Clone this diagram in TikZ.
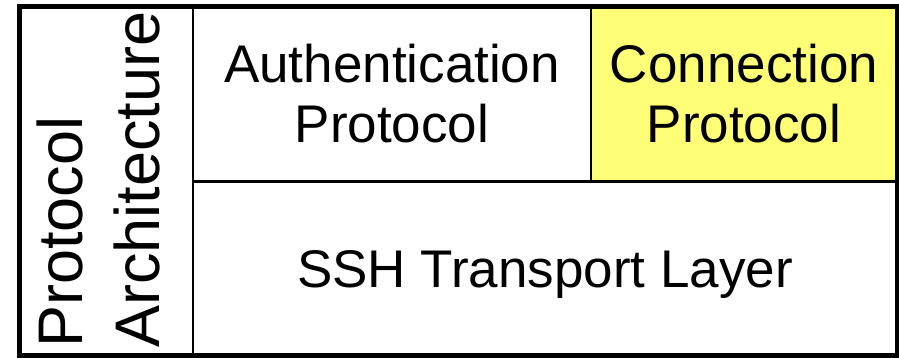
\documentclass[tikz,border=0pt]{standalone}
\usepackage{fontspec}
\setmainfont{Liberation Sans}
\definecolor{connyellow}{RGB}{255,255,119}

\begin{document}
\begin{tikzpicture}[x=1pt,y=-1pt,
	cell/.style={draw,line width=2.5pt,inner sep=0pt,align=center,font=\fontsize{53}{60}\selectfont}]
	\useasboundingbox (0,0) rectangle (899,357);
	\node(auth)[cell,minimum width=398pt,minimum height=175pt] at (392,93.5){Authentication\\Protocol};
	\node(conn)[cell,fill=connyellow,minimum width=306pt,minimum height=175pt] at (744,93.5){Connection\\Protocol};
	\node(ssh)[cell,text depth=0pt,minimum width=704pt,minimum height=174pt] at (545,269){SSH Transport Layer};
	\node(arch)[rotate=90,anchor=north west,inner sep=0pt,align=left,font=\fontsize{63}{77}\selectfont] at (37,348){Protocol\\Architecture};
	\draw[line width=5pt] (19,6) rectangle (897,355);
\end{tikzpicture}
\end{document}
